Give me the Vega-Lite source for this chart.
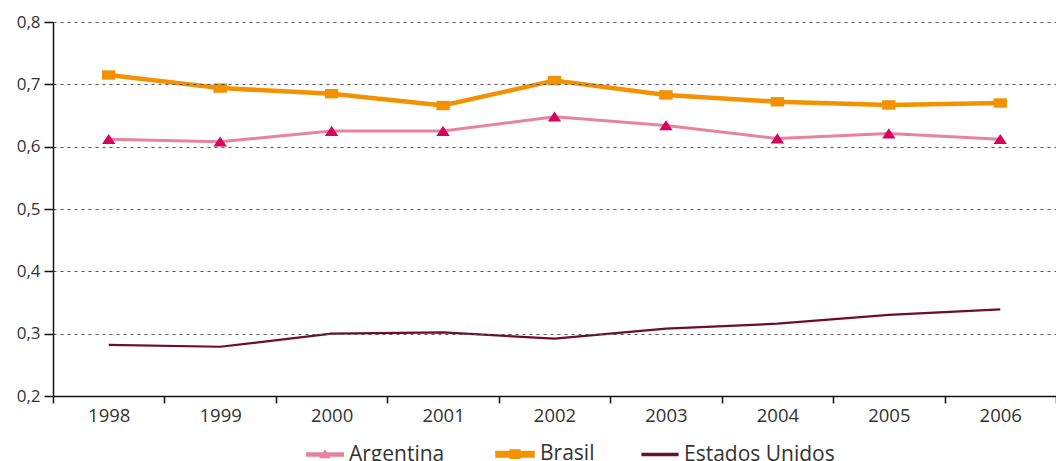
{
  "$schema": "https://vega.github.io/schema/vega-lite/v6.json",
  "width": 1003,
  "height": 374,
  "autosize": {"type": "none"},
  "padding": {"left": 53, "top": 22, "right": 0, "bottom": 65},
  "config": {
    "font": "Open Sans",
    "view": {"stroke": null},
    "axis": {"labelColor": "#333333", "titleFontSize": 16}
  },
  "data": {
    "values": [
      {"year": "1998", "series": "Argentina", "value": 0.612},
      {"year": "1999", "series": "Argentina", "value": 0.608},
      {"year": "2000", "series": "Argentina", "value": 0.625},
      {"year": "2001", "series": "Argentina", "value": 0.625},
      {"year": "2002", "series": "Argentina", "value": 0.648},
      {"year": "2003", "series": "Argentina", "value": 0.634},
      {"year": "2004", "series": "Argentina", "value": 0.613},
      {"year": "2005", "series": "Argentina", "value": 0.621},
      {"year": "2006", "series": "Argentina", "value": 0.612},
      {"year": "1998", "series": "Brasil", "value": 0.715},
      {"year": "1999", "series": "Brasil", "value": 0.694},
      {"year": "2000", "series": "Brasil", "value": 0.685},
      {"year": "2001", "series": "Brasil", "value": 0.666},
      {"year": "2002", "series": "Brasil", "value": 0.706},
      {"year": "2003", "series": "Brasil", "value": 0.683},
      {"year": "2004", "series": "Brasil", "value": 0.672},
      {"year": "2005", "series": "Brasil", "value": 0.667},
      {"year": "2006", "series": "Brasil", "value": 0.670},
      {"year": "1998", "series": "Estados Unidos", "value": 0.282},
      {"year": "1999", "series": "Estados Unidos", "value": 0.279},
      {"year": "2000", "series": "Estados Unidos", "value": 0.300},
      {"year": "2001", "series": "Estados Unidos", "value": 0.302},
      {"year": "2002", "series": "Estados Unidos", "value": 0.292},
      {"year": "2003", "series": "Estados Unidos", "value": 0.308},
      {"year": "2004", "series": "Estados Unidos", "value": 0.316},
      {"year": "2005", "series": "Estados Unidos", "value": 0.330},
      {"year": "2006", "series": "Estados Unidos", "value": 0.339}
    ]
  },
  "encoding": {
    "x": {
      "field": "year",
      "type": "ordinal",
      "scale": {"type": "band", "paddingInner": 0, "paddingOuter": 0},
      "axis": {
        "title": null,
        "labelAngle": 0,
        "labelFontSize": 18.5,
        "tickBand": "extent",
        "tickSize": 7,
        "tickWidth": 1.5,
        "tickColor": "#111111",
        "domainColor": "#111111",
        "domainWidth": 1.5,
        "labelPadding": 3,
        "grid": false,
        "zindex": 2
      }
    },
    "y": {
      "field": "value",
      "type": "quantitative",
      "scale": {"domain": [0.2, 0.8], "nice": false},
      "axis": {
        "title": null,
        "values": [0.2, 0.3, 0.4, 0.5, 0.6, 0.7, 0.8],
        "labelExpr": "replace(format(datum.value, '.1f'), '.', ',')",
        "labelFontSize": 17,
        "grid": true,
        "gridDash": [3, 4],
        "gridColor": "#555555",
        "gridWidth": 1.2,
        "domainColor": "#111111",
        "domainWidth": 1.5,
        "tickColor": "#111111",
        "tickWidth": 1.5,
        "tickSize": 9,
        "labelPadding": 4,
        "zindex": 1
      }
    }
  },
  "layer": [
    {
      "mark": {"type": "line"},
      "encoding": {
        "color": {
          "field": "series",
          "type": "nominal",
          "scale": {
            "domain": ["Argentina", "Brasil", "Estados Unidos"],
            "range": ["#E8839C", "#F39200", "#6E0B2E"]
          },
          "legend": {
            "title": null,
            "orient": "none",
            "legendX": 253,
            "legendY": 412,
            "direction": "horizontal",
            "columnPadding": 43,
            "labelOffset": 5,
            "labelFontSize": 21,
            "labelColor": "#333333",
            "symbolSize": 1225,
            "encode": {
              "symbols": {
                "update": {
                  "shape": {"signal": "datum.value === 'Argentina' ? 'M-1,-0.045H1V0.045H-1Z M-0.18,0.13L0,-0.14L0.18,0.13Z' : datum.value === 'Brasil' ? 'M-1,-0.07H1V0.07H-1Z M-0.19,-0.15H0.19V0.15H-0.19Z' : 'M-1,-0.035H1V0.035H-1Z'"},
                  "fill": {"signal": "datum.value === 'Argentina' ? '#D6045F' : datum.value === 'Brasil' ? '#F39200' : '#6E0B2E'"},
                  "strokeWidth": {"value": 0}
                }
              }
            }
          }
        },
        "strokeWidth": {
          "field": "series",
          "type": "nominal",
          "scale": {
            "type": "ordinal",
            "domain": ["Argentina", "Brasil", "Estados Unidos"],
            "range": [3, 4.5, 2.2]
          },
          "legend": null
        }
      }
    },
    {
      "transform": [{"filter": "datum.series !== 'Estados Unidos'"}],
      "mark": {"type": "point", "filled": true, "size": 180, "opacity": 1, "strokeWidth": 0},
      "encoding": {
        "shape": {
          "field": "series",
          "type": "nominal",
          "scale": {
            "domain": ["Argentina", "Brasil"],
            "range": ["M-1,0.72L0,-0.78L1,0.72Z", "M-1,-0.7H1V0.7H-1Z"]
          },
          "legend": null
        },
        "fill": {
          "field": "series",
          "type": "nominal",
          "scale": {"domain": ["Argentina", "Brasil"], "range": ["#D6045F", "#F39200"]},
          "legend": null
        }
      }
    }
  ]
}
